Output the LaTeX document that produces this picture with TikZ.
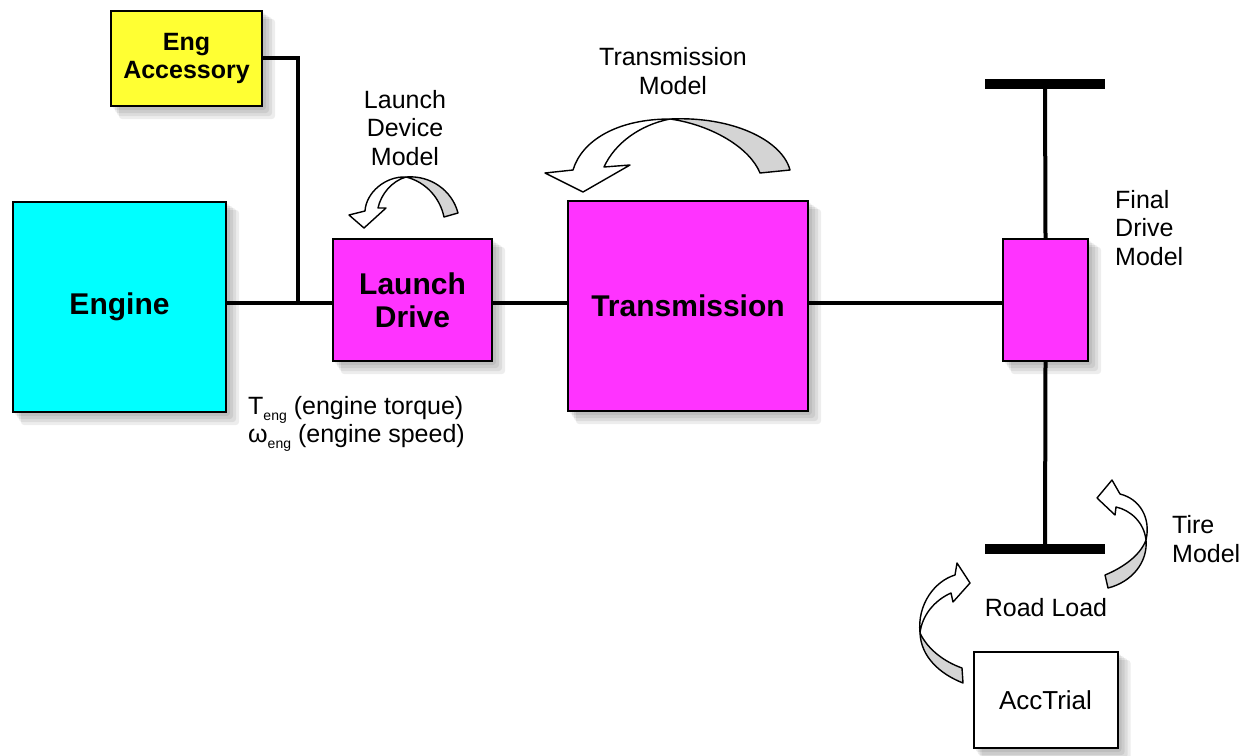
\documentclass[tikz,border=0pt]{standalone}
\usepackage{fontspec}
\setmainfont{Liberation Sans}
\usetikzlibrary{backgrounds}
\definecolor{engcyan}{HTML}{00FFFF}
\definecolor{drvmag}{HTML}{FF33FF}
\definecolor{accyel}{HTML}{FFFF33}
\definecolor{ribgray}{HTML}{D4D4D4}
\tikzset{
  blk/.style={draw=black, line width=2pt, inner sep=0pt, align=center},
  bigfont/.style={font=\fontsize{30}{33}\selectfont\bfseries},
  accfont/.style={font=\fontsize{25}{30}\selectfont\bfseries},
  lbl/.style={font=\fontsize{25}{28.5}\selectfont, align=center, inner sep=0pt},
  shaft/.style={line width=4pt},
  bar/.style={line width=10pt},
  shad/.style={fill=black, opacity=0.07, rounded corners=3pt},
  ribw/.style={fill=white, draw=black, line width=1.4pt, line join=round},
  ribg/.style={fill=ribgray, draw=black, line width=1.4pt, line join=round}
}
\newcommand{\boxshadow}[1]{%
  \foreach \s/\g in {3/0, 5/1, 7/2, 9/3}{%
    \fill[shad] ([shift={(\s-\g,\s-\g)}]#1.north west) ++(\g,\g) rectangle ([shift={(\s+\g,\s+\g)}]#1.south east);
  }}
\begin{document}
\begin{tikzpicture}[x=1pt,y=-1pt]
\useasboundingbox (0,0) rectangle (1252,755);

% blocks
\node[blk, bigfont, fill=engcyan, minimum width=213pt, minimum height=210pt] (engine) at (119.5,307) {Engine};
\node[blk, accfont, fill=accyel, minimum width=151pt, minimum height=95pt] (acc) at (186.5,58.5) {Eng\\[-2pt]Accessory};
\node[blk, bigfont, fill=drvmag, minimum width=159pt, minimum height=122pt] (launch) at (412.5,300) {Launch\\Drive};
\node[blk, bigfont, fill=drvmag, minimum width=240pt, minimum height=210pt] (trans) at (688,306) {Transmission};
\node[blk, fill=drvmag, minimum width=85pt, minimum height=122pt] (fd) at (1045.5,300) {};
\node[blk, font=\fontsize{26}{30}\selectfont, fill=white, minimum width=144pt, minimum height=96pt] (acct) at (1045.5,700) {AccTrial};

% shadows
\begin{scope}[on background layer]
  \boxshadow{engine}
  \boxshadow{acc}
  \boxshadow{launch}
  \boxshadow{trans}
  \boxshadow{fd}
  \boxshadow{acct}
\end{scope}

% axle bars
\coordinate (topL) at (985,84);
\coordinate (topR) at (1105,84);
\coordinate (topC) at (1045,84);
\coordinate (botL) at (985,549);
\coordinate (botR) at (1105,549);
\coordinate (botC) at (1045,549);
\coordinate (jn) at (298,303);

% shafts
\draw[shaft] (engine.east |- jn) -- (launch.west |- jn);
\draw[shaft, line join=miter] (acc.east |- 0,58) -| (jn);
\draw[shaft] (launch.east |- jn) -- (trans.west |- jn);
\draw[shaft] (trans.east |- jn) -- (fd.west |- jn);
\draw[shaft] (topC) -- (fd.north);
\draw[shaft] (fd.south) -- (botC);
\draw[bar] (topL) -- (topR);
\draw[bar] (botL) -- (botR);

% labels
\node[lbl] (ldm) at (405,128) {Launch\\Device\\Model};
\node[lbl] (tm) at (673,71) {Transmission\\Model};
\node[lbl, align=left, anchor=west] (fdm) at (1115,228) {Final\\Drive\\Model};
\node[lbl, align=left, anchor=west] (tire) at (1172,539) {Tire\\Model};
\node[lbl] (rl) at (1046,608) {Road Load};
\node[lbl, align=left, anchor=west] (teng) at (248,424) {T\raisebox{-0.45ex}{\fontsize{14}{14}\selectfont eng} (engine torque)\\ω\raisebox{-0.45ex}{\fontsize{14}{14}\selectfont eng} (engine speed)};

% ribbon arrow: launch device
\path[ribg] (406,177) .. controls (430,175) and (452,190) .. (458,213) -- (444,217) .. controls (440,198) and (426,182) .. (406,177) -- cycle;
\path[ribw] (406,177) .. controls (385,176) and (366,193) .. (365,211) -- (349,215) -- (364,228) -- (386,208) -- (378,208) .. controls (381,194) and (392,181) .. (406,177) -- cycle;

% ribbon arrow: transmission
\path[ribg] (670,119) .. controls (732,116) and (782,140) .. (790,170) -- (760,173) .. controls (750,148) and (712,125) .. (670,119) -- cycle;
\path[ribw] (670,119) .. controls (618,119) and (582,140) .. (573,170) -- (545,173) -- (583,192) -- (630,165) -- (604,167) .. controls (615,143) and (640,125) .. (670,119) -- cycle;

% ribbon arrow: tire model
\path[ribg] (1146,540) .. controls (1148,562) and (1132,582) .. (1108,588) -- (1105,575) .. controls (1122,568) and (1140,556) .. (1146,540) -- cycle;
\path[ribw] (1146,540) .. controls (1151,518) and (1140,499) .. (1120,494) -- (1112,480) -- (1097,498) -- (1115,515) -- (1116,507) .. controls (1130,510) and (1144,522) .. (1146,540) -- cycle;

% ribbon arrow: road load
\path[ribg] (920,633) .. controls (921,657) and (940,674) .. (963,683) -- (962,668) .. controls (945,662) and (928,650) .. (920,633) -- cycle;
\path[ribw] (920,633) .. controls (917,604) and (935,581) .. (955,575) -- (957,563) -- (970,583) -- (953,602) -- (951,593) .. controls (935,600) and (922,615) .. (920,633) -- cycle;
\end{tikzpicture}
\end{document}
